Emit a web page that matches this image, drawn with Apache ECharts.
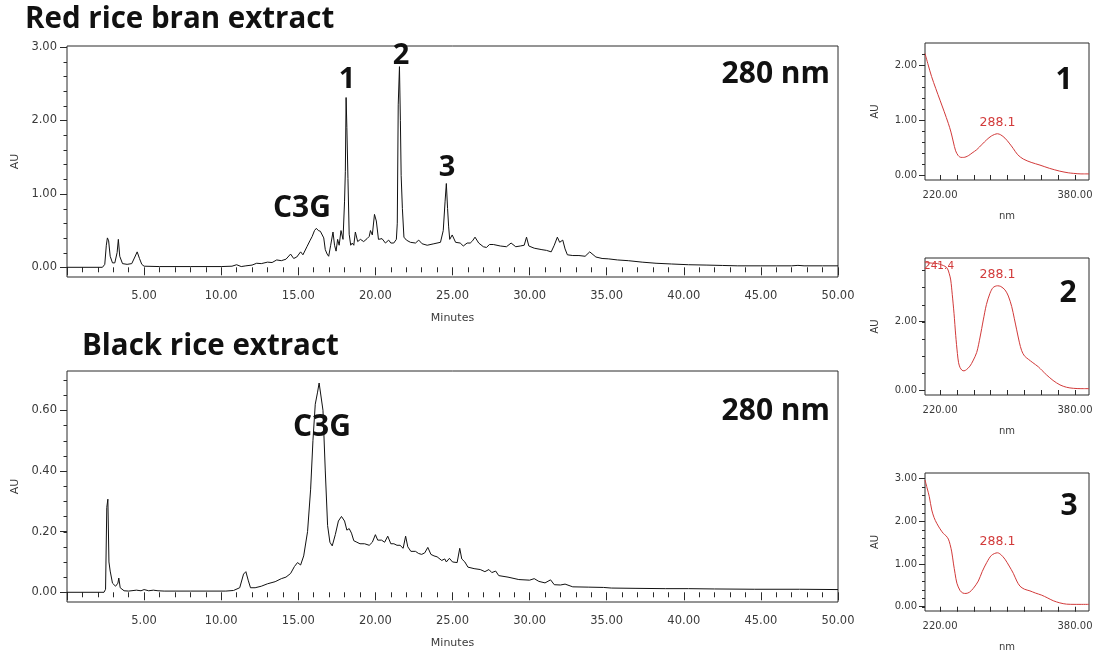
<!DOCTYPE html>
<html>
<head>
<meta charset="utf-8">
<script src="https://cdn.jsdelivr.net/npm/echarts@6/dist/echarts.min.js"></script>
<style>
html, body { margin: 0; padding: 0; background: #fff; }
#chart { width: 1101px; height: 653px; }
</style>
</head>
<body>
<div id="chart"></div>
<script>
// Red rice bran extract chromatogram at 280 nm: [retention time (min), absorbance (AU)]
const redRiceBran = [
  [0, 0], [2.3, 0], [2.45, 0.04], [2.55, 0.3], [2.62, 0.40], [2.7, 0.36], [2.8, 0.15], [2.95, 0.06],
  [3.1, 0.06], [3.25, 0.2], [3.33, 0.38], [3.42, 0.15], [3.6, 0.05], [3.9, 0.04], [4.2, 0.05],
  [4.4, 0.14], [4.55, 0.21], [4.7, 0.12], [4.85, 0.04], [5.0, 0.015], [6, 0.01], [8, 0.01],
  [10, 0.01], [10.7, 0.015], [11.0, 0.035], [11.3, 0.01], [11.6, 0.02], [12.0, 0.03], [12.3, 0.055],
  [12.6, 0.05], [13.0, 0.07], [13.3, 0.065], [13.6, 0.1], [13.9, 0.09], [14.2, 0.11], [14.5, 0.18],
  [14.7, 0.12], [14.9, 0.14], [15.15, 0.21], [15.3, 0.17], [15.56, 0.28], [15.75, 0.36], [15.9, 0.42],
  [16.05, 0.5], [16.17, 0.53], [16.3, 0.5], [16.43, 0.49], [16.55, 0.47], [16.65, 0.4], [16.75, 0.24],
  [16.87, 0.18], [16.97, 0.15], [17.1, 0.3], [17.25, 0.48], [17.35, 0.3], [17.45, 0.22], [17.55, 0.38],
  [17.65, 0.3], [17.77, 0.5], [17.9, 0.38], [18.0, 0.9], [18.05, 1.3], [18.1, 2.31], [18.15, 1.9],
  [18.22, 1.21], [18.3, 0.45], [18.4, 0.3], [18.5, 0.33], [18.6, 0.3], [18.7, 0.48], [18.85, 0.35],
  [19.03, 0.38], [19.24, 0.35], [19.46, 0.39], [19.6, 0.42], [19.68, 0.5], [19.8, 0.44], [19.94, 0.72],
  [20.06, 0.63], [20.2, 0.38], [20.43, 0.39], [20.65, 0.33], [20.86, 0.37], [21.0, 0.33], [21.19, 0.33],
  [21.36, 0.38], [21.42, 0.6], [21.48, 2.21], [21.56, 2.73], [21.62, 2.0], [21.67, 1.25], [21.75, 0.8],
  [21.85, 0.41], [22.01, 0.37], [22.27, 0.34], [22.6, 0.33], [22.81, 0.37], [23.03, 0.32], [23.36, 0.3],
  [23.79, 0.32], [24.22, 0.34], [24.4, 0.5], [24.52, 0.9], [24.6, 1.14], [24.68, 0.8], [24.75, 0.55],
  [24.82, 0.38], [24.98, 0.44], [25.2, 0.34], [25.5, 0.33], [25.7, 0.29], [25.95, 0.33], [26.15, 0.33],
  [26.3, 0.36], [26.46, 0.41], [26.7, 0.33], [27.0, 0.28], [27.2, 0.27], [27.4, 0.31], [27.65, 0.31],
  [28.1, 0.29], [28.5, 0.28], [28.8, 0.33], [29.1, 0.28], [29.4, 0.29], [29.65, 0.3], [29.8, 0.41],
  [29.95, 0.29], [30.3, 0.26], [30.8, 0.24], [31.1, 0.23], [31.4, 0.21], [31.6, 0.3], [31.8, 0.41],
  [31.95, 0.34], [32.15, 0.37], [32.3, 0.25], [32.45, 0.17], [32.8, 0.16], [33.2, 0.16], [33.6, 0.15],
  [33.9, 0.21], [34.3, 0.14], [34.7, 0.12], [35.1, 0.115], [35.7, 0.1], [36.4, 0.09], [37.3, 0.07],
  [38.2, 0.055], [39.2, 0.045], [40.3, 0.035], [41.5, 0.03], [42.5, 0.025], [43.5, 0.02], [45.0, 0.02],
  [46.0, 0.02], [47.0, 0.02], [47.4, 0.026], [47.8, 0.02], [49.0, 0.02], [50.0, 0.02]
];

// Black rice extract chromatogram at 280 nm: [retention time (min), absorbance (AU)]
const blackRice = [
  [0, 0], [2.4, 0], [2.5, 0.01], [2.58, 0.28], [2.65, 0.307], [2.72, 0.1], [2.8, 0.07], [2.95, 0.03],
  [3.15, 0.02], [3.3, 0.03], [3.36, 0.047], [3.45, 0.015], [3.7, 0.005], [4.0, 0.004], [4.5, 0.007],
  [4.8, 0.005], [5.0, 0.009], [5.3, 0.005], [5.6, 0.007], [5.9, 0.005], [6.3, 0.004], [8, 0.004],
  [10.3, 0.004], [10.8, 0.006], [11.2, 0.015], [11.45, 0.06], [11.6, 0.068], [11.75, 0.04], [11.9, 0.015],
  [12.2, 0.015], [12.6, 0.02], [13.0, 0.028], [13.5, 0.035], [13.9, 0.045], [14.2, 0.05], [14.5, 0.062],
  [14.75, 0.085], [14.95, 0.098], [15.15, 0.09], [15.35, 0.12], [15.6, 0.2], [15.8, 0.34], [15.95, 0.5],
  [16.1, 0.62], [16.25, 0.66], [16.35, 0.69], [16.47, 0.694], [16.6, 0.6], [16.75, 0.4], [16.9, 0.22],
  [17.05, 0.165], [17.2, 0.153], [17.4, 0.19], [17.6, 0.235], [17.8, 0.25], [18.0, 0.235], [18.15, 0.205],
  [18.3, 0.21], [18.45, 0.195], [18.6, 0.17], [18.8, 0.165], [19.0, 0.16], [19.3, 0.16], [19.6, 0.155],
  [19.8, 0.165], [20.0, 0.19], [20.15, 0.172], [20.4, 0.172], [20.6, 0.165], [20.8, 0.185], [21.0, 0.16],
  [21.2, 0.16], [21.4, 0.155], [21.6, 0.155], [21.8, 0.145], [21.96, 0.185], [22.1, 0.15], [22.3, 0.135],
  [22.6, 0.135], [22.8, 0.128], [23.0, 0.125], [23.2, 0.13], [23.4, 0.148], [23.6, 0.125], [23.8, 0.12],
  [24.0, 0.117], [24.3, 0.105], [24.5, 0.11], [24.6, 0.1], [24.8, 0.112], [25.0, 0.1], [25.3, 0.098],
  [25.47, 0.145], [25.6, 0.11], [25.8, 0.1], [26.0, 0.083], [26.4, 0.078], [26.8, 0.075], [27.1, 0.068],
  [27.36, 0.075], [27.55, 0.065], [27.8, 0.07], [28.0, 0.055], [28.6, 0.05], [29.3, 0.042], [30.0, 0.04],
  [30.3, 0.045], [30.6, 0.036], [31.0, 0.031], [31.36, 0.041], [31.6, 0.025], [32.0, 0.024], [32.3, 0.027],
  [32.8, 0.018], [33.8, 0.017], [34.8, 0.016], [35.3, 0.014], [36.9, 0.013], [38.8, 0.012], [40.3, 0.012],
  [42.0, 0.011], [44.6, 0.01], [47.5, 0.01], [50.0, 0.009]
];

// UV spectra of peaks 1-3: [wavelength (nm), absorbance (AU)]
const spectrum1 = [
  [202.2, 2.21], [206, 2.0], [210, 1.79], [215, 1.57], [220, 1.36], [225, 1.15], [229.8, 0.94],
  [233, 0.78], [235.8, 0.6], [238.5, 0.44], [241.7, 0.35], [245, 0.32], [248, 0.32], [253.5, 0.35],
  [258, 0.4], [263.5, 0.46], [270, 0.56], [275.3, 0.64], [281, 0.71], [288.1, 0.75], [292, 0.73],
  [297, 0.67], [302, 0.58], [306.9, 0.48], [312, 0.37], [318.7, 0.29], [328, 0.23], [338.5, 0.18],
  [350, 0.12], [362, 0.07], [372, 0.04], [378, 0.03], [387, 0.02], [396.6, 0.02]
];
const spectrum2 = [
  [202.2, 3.73], [207, 3.72], [212, 3.71], [217, 3.70], [222, 3.66], [226, 3.62], [228.7, 3.56],
  [231, 3.4], [232.7, 3.22], [234.5, 2.8], [236.6, 2.24], [238.6, 1.6], [240.6, 1.07], [242, 0.8],
  [243.7, 0.66], [246, 0.58], [248.4, 0.56], [251.5, 0.6], [255.5, 0.7], [259, 0.85], [263.5, 1.1],
  [267.5, 1.55], [271.3, 2.05], [275, 2.5], [279.2, 2.83], [283, 3.0], [288.1, 3.05], [292, 3.03],
  [297, 2.93], [301, 2.75], [305, 2.44], [308, 2.1], [310.9, 1.76], [314, 1.4], [316.8, 1.15],
  [320, 1.0], [324.7, 0.9], [330, 0.8], [336.5, 0.68], [341, 0.57], [346.4, 0.44], [354, 0.28],
  [362.2, 0.15], [370, 0.08], [378, 0.05], [387, 0.04], [396.6, 0.04]
];
const spectrum3 = [
  [202.2, 2.96], [205, 2.75], [207.3, 2.57], [210.2, 2.26], [213, 2.08], [216.1, 1.95], [220, 1.82],
  [224, 1.71], [227, 1.66], [229.9, 1.58], [232, 1.45], [233.9, 1.28], [236, 1.0], [237.8, 0.78],
  [240, 0.55], [243.7, 0.38], [247, 0.32], [250.8, 0.31], [255, 0.34], [259.5, 0.43], [265.4, 0.6],
  [270, 0.82], [275.3, 1.03], [281, 1.2], [288.1, 1.26], [292, 1.22], [297, 1.11], [302, 0.95],
  [306.9, 0.78], [311, 0.6], [314.8, 0.48], [320, 0.41], [326.6, 0.37], [333, 0.32], [340.5, 0.27],
  [347, 0.21], [354.2, 0.14], [362, 0.09], [370, 0.06], [380, 0.055], [396.6, 0.055]
];

// Wavelength of the absorbance maximum labelled on each spectrum
const lambdaMax = 288.1;
const shortLambdaLabel = '241.4';

// Axis tick values
const redAUTicks = [0, 1, 2, 3];
const blackAUTicks = [0, 0.2, 0.4, 0.6];
const spec1AUTicks = [0, 1, 2];
const spec2AUTicks = [0, 2];
const spec3AUTicks = [0, 1, 2, 3];
const nmLabelTicks = [220, 380];
const nmTicks = [220, 240, 260, 280, 300, 320, 340, 360, 380];

// Text
const panelTitles = ['Red rice bran extract', 'Black rice extract'];
const detectorLabel = '280 nm';
const peakNames = ['C3G', '1', '2', '3'];

function steps(from, to, step) {
  const out = [];
  for (let v = from; v <= to + 1e-9; v += step) out.push(Math.round(v * 1000) / 1000);
  return out;
}

const AXIS_FONT = '"DejaVu Sans", sans-serif';
const BOLD_FONT = '"Open Sans", "Noto Sans", sans-serif';
const LABEL_COLOR = '#3a3a3a';
const FRAME_COLOR = '#2a2a2a';
const SPEC_RED = '#d23a3a';

const grids = [
  { left: 67, top: 46, width: 771, height: 231 },
  { left: 67, top: 371, width: 771, height: 231 },
  { left: 925, top: 43, width: 164, height: 137 },
  { left: 925, top: 258, width: 164, height: 137 },
  { left: 925, top: 473, width: 164, height: 138 }
].map(g => Object.assign({ show: true, borderColor: FRAME_COLOR, borderWidth: 1, backgroundColor: 'transparent' }, g));

const X_MIN_MIN = 0, X_MAX_MIN = 50;
const X_MIN_NM = 202.2, X_MAX_NM = 396.6;

function minutesAxis(gridIndex) {
  return {
    type: 'value', gridIndex, position: 'bottom', min: X_MIN_MIN, max: X_MAX_MIN, interval: 5,
    name: 'Minutes', nameLocation: 'middle', nameGap: 36,
    nameTextStyle: { fontFamily: AXIS_FONT, fontSize: 11, color: LABEL_COLOR },
    axisLine: { show: false },
    axisTick: { show: true, length: 8, lineStyle: { color: FRAME_COLOR } },
    minorTick: { show: true, splitNumber: 5, length: 5, lineStyle: { color: FRAME_COLOR } },
    splitLine: { show: false },
    axisLabel: {
      showMinLabel: false, margin: 13, fontFamily: AXIS_FONT, fontSize: 11.5, color: LABEL_COLOR,
      formatter: v => v.toFixed(2)
    }
  };
}

function nmAxis(gridIndex) {
  return {
    type: 'value', gridIndex, position: 'bottom', min: X_MIN_NM, max: X_MAX_NM,
    name: 'nm', nameLocation: 'middle', nameGap: 31,
    nameTextStyle: { fontFamily: AXIS_FONT, fontSize: 10, color: LABEL_COLOR },
    axisLine: { show: false },
    axisTick: { show: true, length: 5, customValues: nmTicks, lineStyle: { color: FRAME_COLOR } },
    splitLine: { show: false },
    axisLabel: {
      margin: 10, fontFamily: AXIS_FONT, fontSize: 10, color: LABEL_COLOR,
      customValues: nmLabelTicks, formatter: v => v.toFixed(2)
    }
  };
}

// Absorbance axis: labelled major ticks
function auAxis(gridIndex, min, max, majors, opts) {
  return {
    type: 'value', gridIndex, position: 'left', min, max,
    name: 'AU', nameLocation: 'middle', nameGap: opts.nameGap, nameRotate: 90,
    nameTextStyle: { fontFamily: AXIS_FONT, fontSize: opts.nameSize, color: LABEL_COLOR },
    axisLine: { show: false },
    axisTick: { show: true, length: opts.majorLen, customValues: majors, lineStyle: { color: FRAME_COLOR } },
    splitLine: { show: false },
    axisLabel: {
      margin: opts.margin, fontFamily: AXIS_FONT, fontSize: opts.fontSize, color: LABEL_COLOR,
      customValues: majors, formatter: v => v.toFixed(2)
    }
  };
}

const chromOpts = { nameGap: 46, nameSize: 11, majorLen: 7, margin: 10, fontSize: 11.5 };
const specOpts = { nameGap: 45, nameSize: 10, majorLen: 6, margin: 8, fontSize: 10 };

const xAxes = [minutesAxis(0), minutesAxis(1), nmAxis(2), nmAxis(3), nmAxis(4)];
const yAxes = [
  auAxis(0, -0.132, 3.011, redAUTicks, chromOpts),
  auAxis(1, -0.032, 0.7296, blackAUTicks, chromOpts),
  auAxis(2, -0.091, 2.4, spec1AUTicks, specOpts),
  auAxis(3, -0.146, 3.863, spec2AUTicks, specOpts),
  auAxis(4, -0.1, 3.124, spec3AUTicks, specOpts)
];

// Minor absorbance ticks for each panel: [grid, x at the axis, values, tick length]
const minorTickSets = [
  [0, X_MIN_MIN, steps(0, 3, 0.2), 3.5],
  [1, X_MIN_MIN, steps(0, 0.7, 0.05), 3.5],
  [2, X_MIN_NM, steps(0, 2.2, 0.2), 3],
  [3, X_MIN_NM, steps(0, 3.5, 0.5), 3],
  [4, X_MIN_NM, steps(0, 3.0, 0.2), 3]
];

function chromSeries(data, i) {
  return {
    type: 'line', xAxisIndex: i, yAxisIndex: i, data,
    showSymbol: false, symbol: 'none', animation: false, z: 3,
    lineStyle: { color: '#111', width: 1 }
  };
}

function specSeries(data, i) {
  const peak = data.find(p => p[0] === lambdaMax);
  return {
    type: 'line', xAxisIndex: i, yAxisIndex: i, data, smooth: 0.3,
    showSymbol: false, symbol: 'none', animation: false, z: 3,
    lineStyle: { color: SPEC_RED, width: 1 },
    markPoint: {
      symbol: 'circle', symbolSize: 1, itemStyle: { color: 'rgba(0,0,0,0)' },
      data: [{ coord: peak, value: peak[0] }],
      label: {
        show: true, position: 'top', distance: 4, color: SPEC_RED,
        fontFamily: AXIS_FONT, fontSize: 12.5, formatter: p => p.value.toFixed(1)
      }
    }
  };
}

function bigText(text, x, y, size, align) {
  return {
    type: 'text', x, y, z: 10,
    style: {
      text, fill: '#111', font: 'bold ' + size + 'px ' + BOLD_FONT,
      textAlign: align || 'center', textVerticalAlign: 'middle', align: align || 'center', verticalAlign: 'middle'
    }
  };
}

const graphics = [
  bigText(panelTitles[0], 25, 20, 29.5, 'left'),
  bigText(panelTitles[1], 82, 347, 29.5, 'left'),
  bigText(detectorLabel, 830, 74, 30, 'right'),
  bigText(detectorLabel, 830, 411, 30, 'right'),
  bigText(peakNames[0], 302, 208, 30),
  bigText(peakNames[1], 347, 80, 29),
  bigText(peakNames[2], 401, 56, 29),
  bigText(peakNames[3], 447, 168, 29),
  bigText(peakNames[0], 322, 427, 30),
  bigText(peakNames[1], 1064, 80, 30),
  bigText(peakNames[2], 1068, 293, 30),
  bigText(peakNames[3], 1069, 506, 30),
  // short-wavelength label on spectrum 2, set against the frame's left edge
  {
    type: 'text', x: 924, y: 266, z: 1,
    style: {
      text: shortLambdaLabel, fill: SPEC_RED, font: '10.5px ' + AXIS_FONT,
      textAlign: 'left', textVerticalAlign: 'middle', align: 'left', verticalAlign: 'middle'
    }
  }
];

const chart = echarts.init(document.getElementById('chart'), null, { renderer: 'canvas' });
chart.setOption({
  backgroundColor: '#fff',
  animation: false,
  grid: grids,
  xAxis: xAxes,
  yAxis: yAxes,
  series: [
    chromSeries(redRiceBran, 0),
    chromSeries(blackRice, 1),
    specSeries(spectrum1, 2),
    specSeries(spectrum2, 3),
    specSeries(spectrum3, 4)
  ],
  graphic: graphics
});

// Place the minor ticks through each panel's own axis scale
const tickLines = [];
minorTickSets.forEach(([gi, xAt, values, len]) => {
  values.forEach(v => {
    const p = chart.convertToPixel({ xAxisIndex: gi, yAxisIndex: gi }, [xAt, v]);
    if (!p) return;
    const y = Math.round(p[1]) + 0.5;
    tickLines.push({
      type: 'line', z: 5, silent: true,
      shape: { x1: p[0] - len, y1: y, x2: p[0], y2: y },
      style: { stroke: FRAME_COLOR, lineWidth: 1 }
    });
  });
});
chart.setOption({ graphic: graphics.concat(tickLines) });
</script>
</body>
</html>
